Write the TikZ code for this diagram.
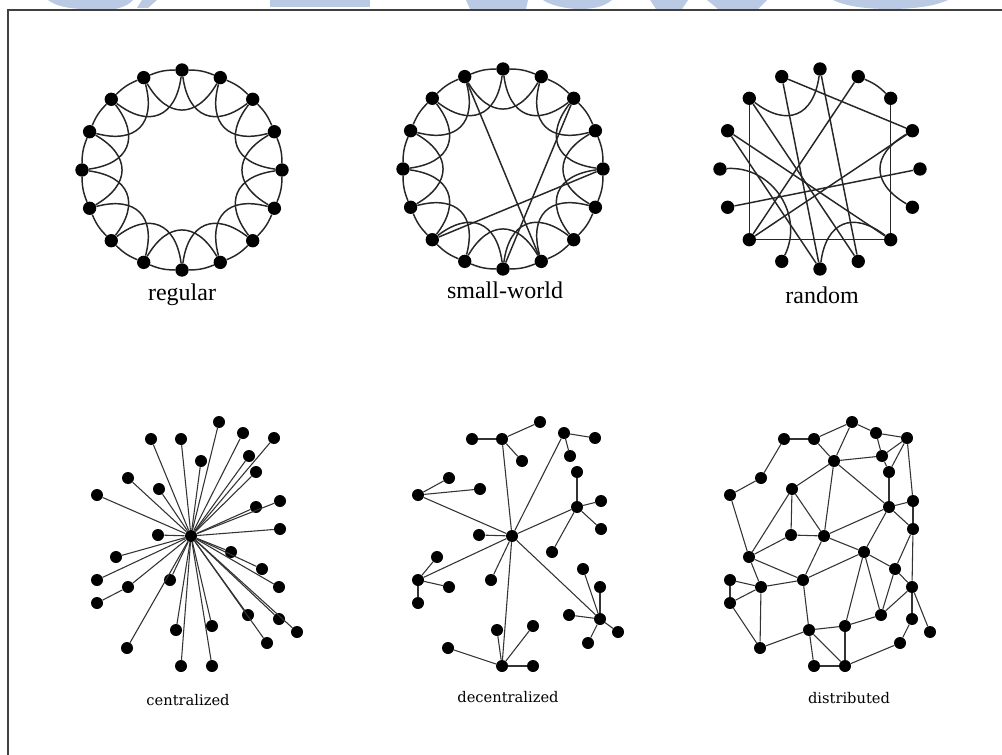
\documentclass[tikz,border=0pt]{standalone}
\usepackage{fontspec}
\setmainfont{Liberation Serif}
\newfontfamily\labfont{DejaVu Serif}
\usetikzlibrary{calc}
\definecolor{wmblue}{RGB}{186,201,228}
\newcommand\ringnodes[3]{%
  \coordinate (#1c) at (#2,#3);
  \foreach \k in {0,...,15}{
    \node[dot] (#1\k) at ({#2+100*cos(90-22.5*\k)},{#3-100*sin(90-22.5*\k)}) {};
  }}
\newcommand\latticeedges[1]{%
  \foreach \k in {0,...,15}{
    \pgfmathtruncatemacro{\kn}{mod(\k+1,16)}
    \pgfmathtruncatemacro{\knn}{mod(\k+2,16)}
    \draw[ringedge] (#1\k) to[bend left=11] (#1\kn);
    \draw[ringedge] (#1\k) to[innerarc] (#1\knn);
  }}
\newcommand\baranpos{1/219/422,2/243/433,3/274/438,4/151/439,5/181/439,6/201/461,7/249/456,8/256/472,9/128/478,10/159/489,11/97/495,12/256/507,13/280/501,14/280/529,15/158/535,16/191/536,17/231/552,18/116/557,19/262/569,20/97/580,21/128/587,22/170/580,23/279/587,24/97/603,25/248/615,26/279/619,27/297/632,28/176/630,29/212/626,30/267/643,31/127/648,32/181/666,33/212/666}
\newcommand\baran[2]{\foreach \i/\x/\y in \baranpos {\node[bdot] (#1\i) at ({\x+#2},\y) {};}}
\begin{document}
\begin{tikzpicture}[x=0.75pt,y=-0.75pt,
  dot/.style={circle,fill=black,inner sep=0pt,minimum size=10pt},
  bdot/.style={circle,fill=black,inner sep=0pt,minimum size=9pt},
  ringedge/.style={line width=1.1pt,draw=black!85},
  innerarc/.style={bend right=60,looseness=1.5},
  bedge/.style={line width=0.8pt,draw=black!80},
  toplab/.style={font=\fontsize{18}{20}\selectfont},
  botlab/.style={font=\labfont\fontsize{11}{13}\selectfont},
  wm/.style={fill=wmblue,draw=none},
  frame/.style={draw=black!75,line width=1.4pt}]
\useasboundingbox (0,0) rectangle (1002,755);
\fill[white] (0,0) rectangle (1002,755);
% watermark fragments
\fill[wm] (48,0) .. controls (55,6) and (70,9) .. (85,9) -- (115,9) .. controls (125,7) and (131,3) .. (133,0) -- cycle;
\fill[wm] (142,0) -- (157,0) -- (148,8) -- (137,8) -- cycle;
\fill[wm] (270,0) -- (370,0) -- (370,7) -- (270,7) -- cycle;
\fill[wm] (466,0) -- (528,0) -- (526,9) -- (470,9) -- cycle;
\fill[wm] (543,0) -- (612,0) .. controls (605,6) and (595,9) .. (580,9) .. controls (565,9) and (550,5) .. cycle;
\fill[wm] (650,0) -- (688,0) -- (682,9) -- (656,9) -- cycle;
\fill[wm] (707,0) -- (767,0) -- (758,9) -- (718,9) -- cycle;
\fill[wm] (833,0) -- (948,0) .. controls (935,6) and (915,9) .. (890,9) .. controls (865,9) and (845,6) .. cycle;
\draw[frame] (8,755) -- (8,10) -- (1002,10);
% regular
\ringnodes{A}{182}{170}
\latticeedges{A}
% small-world
\ringnodes{B}{503}{169}
\latticeedges{B}
\draw[ringedge] (B15) -- (B7);
\draw[ringedge] (B2) -- (B8);
\draw[ringedge] (B4) -- (B10);
% random
\ringnodes{C}{820}{169}
\foreach \a/\b in {15/3,14/10,2/6,14/7,13/6,13/8,11/4,10/3,10/1,15/8,0/7,6/10}{\draw[ringedge] (C\a) -- (C\b);}
\draw[ringedge] (C1) to[bend left=11] (C2);
\draw[ringedge] (C14) to[innerarc] (C0);
\draw[ringedge] (C12) to[bend left=60,looseness=1.1] (C9);
\draw[ringedge] (C3) to[innerarc] (C5);
\draw[ringedge] (C6) to[innerarc] (C8);
% labels top
\node[toplab] (lreg) at (182,295) {regular};
\node[toplab] (lsw) at (505,290) {small-world};
\node[toplab] (lrnd) at (822,295) {random};
% centralized
\baran{c}{0}
\foreach \i in {1,...,15,17,18,...,23,25,26,...,33}{\draw[bedge] (c16) -- (c\i);}
\draw[bedge] (c24) -- (c21);
% decentralized
\baran{d}{321}
\foreach \a/\b in {16/5,16/2,16/12,16/11,16/15,16/20,16/22,16/26,16/32,5/4,5/1,5/6,2/3,2/7,12/8,12/13,12/14,12/17,11/9,11/10,20/18,20/21,20/24,26/19,26/23,26/25,26/27,26/30,32/28,32/29,32/33,32/31}{\draw[bedge] (d\a) -- (d\b);}
% distributed
\baran{e}{633}
\foreach \a/\b in {4/5,5/1,1/2,2/3,1/6,5/6,4/9,9/11,6/7,2/7,3/7,3/8,7/8,3/13,13/14,14/23,23/26,8/12,6/10,6/16,6/12,10/15,10/16,10/18,11/18,15/16,15/18,12/16,12/13,12/14,12/17,16/17,16/22,17/22,17/19,17/29,17/25,18/21,18/22,20/21,20/24,21/24,21/22,21/31,24/31,22/28,19/25,19/23,14/19,23/27,25/23,26/30,28/29,29/25,28/31,28/32,28/33,29/33,32/33,33/30}{\draw[bedge] (e\a) -- (e\b);}
% labels bottom
\node[botlab] (lcen) at (188,700) {centralized};
\node[botlab] (ldec) at (508,697) {decentralized};
\node[botlab] (ldis) at (849,698) {distributed};
\end{tikzpicture}
\end{document}
